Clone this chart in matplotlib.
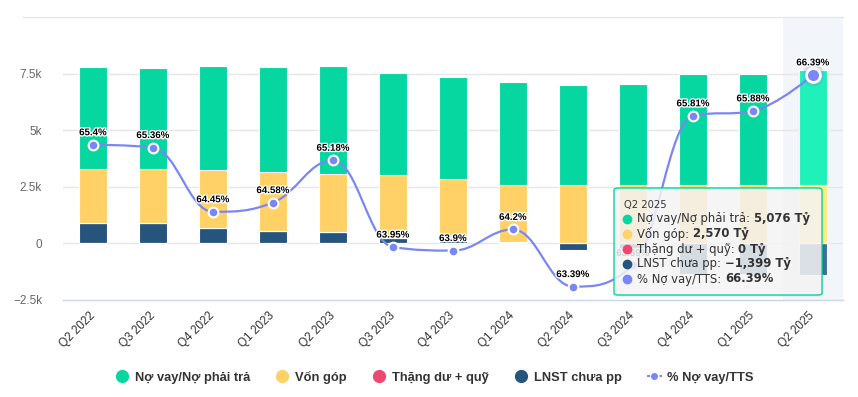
import numpy as np
import matplotlib.pyplot as plt
from matplotlib.path import Path
from matplotlib.patches import PathPatch, FancyBboxPatch
from matplotlib.lines import Line2D
import matplotlib.patheffects as pe

# quarters and values (Tỷ)
quarters = ['Q2 2022', 'Q3 2022', 'Q4 2022', 'Q1 2023', 'Q2 2023', 'Q3 2023', 'Q4 2023',
            'Q1 2024', 'Q2 2024', 'Q3 2024', 'Q4 2024', 'Q1 2025', 'Q2 2025']
no_vay = [4510, 4460, 4600, 4650, 4780, 4520, 4520, 4560, 4440, 4470, 4930, 4930, 5076]
von_gop = [2420, 2420, 2570, 2600, 2570, 2770, 2580, 2550, 2570, 2570, 2570, 2570, 2570]
thang_du = [0, 0, 0, 0, 0, 0, 0, 0, 0, 0, 0, 0, 0]
lnst = [880, 880, 680, 560, 500, 250, 270, 40, -270, -400, -1330, -1340, -1399]
pct_no_vay = [65.4, 65.36, 64.45, 64.58, 65.18, 63.95, 63.9, 64.2, 63.39, 63.69, 65.81, 65.88, 66.39]

yticks = [-2500, 0, 2500, 5000, 7500]
ytick_labels = ['\u22122.5k', '0', '2.5k', '5k', '7.5k']

c_green = '#06d6a0'
c_yellow = '#ffd166'
c_red = '#ef476f'
c_navy = '#26547c'
c_line = '#7b86f5'
hover_idx = 12

W, H = 858, 397


def brighten(hexcol, amt=0.1):
    r, g, b = [int(hexcol[i:i + 2], 16) for i in (1, 3, 5)]
    return tuple(min(255, v + 255 * amt) / 255 for v in (r, g, b))


def spline_path(xs, ys, smoothing=1.5):
    # highcharts style spline control points
    n = len(xs)
    left = [(xs[i], ys[i]) for i in range(n)]
    right = [(xs[i], ys[i]) for i in range(n)]
    d = smoothing + 1
    for i in range(1, n - 1):
        px, py = xs[i], ys[i]
        lx, ly = xs[i - 1], ys[i - 1]
        nx, ny = xs[i + 1], ys[i + 1]
        lcx = (smoothing * px + lx) / d
        lcy = (smoothing * py + ly) / d
        rcx = (smoothing * px + nx) / d
        rcy = (smoothing * py + ny) / d
        if rcx != lcx:
            corr = ((rcy - lcy) * (rcx - px)) / (rcx - lcx) + py - rcy
            lcy += corr
            rcy += corr
        if lcy > ly and lcy > py:
            lcy = max(ly, py)
            rcy = 2 * py - lcy
        elif lcy < ly and lcy < py:
            lcy = min(ly, py)
            rcy = 2 * py - lcy
        if rcy > ny and rcy > py:
            rcy = max(ny, py)
            lcy = 2 * py - rcy
        elif rcy < ny and rcy < py:
            rcy = min(ny, py)
            lcy = 2 * py - rcy
        left[i] = (lcx, lcy)
        right[i] = (rcx, rcy)
    verts = [(xs[0], ys[0])]
    codes = [Path.MOVETO]
    for i in range(1, n):
        verts += [right[i - 1], left[i], (xs[i], ys[i])]
        codes += [Path.CURVE4] * 3
    return Path(verts, codes)


fig = plt.figure(figsize=(W / 100, H / 100), dpi=100)
ax = fig.add_axes([63 / W, 97 / H, 780 / W, 283 / H])
x = np.arange(len(quarters))

# hovered category band
ax.axvspan(hover_idx - 0.5, hover_idx + 0.5, color='#f2f5fa', zorder=0, lw=0)

for yv in [0, 2500, 5000, 7500]:
    ax.axhline(yv, color='#e6e6e6', lw=1, zorder=0.5)
fig.add_artist(Line2D([23 / W, 843 / W], [1 - 17 / H, 1 - 17 / H], color='#e6e6e6', lw=1))

lnst_arr = np.array(lnst, dtype=float)
pos_base = np.where(lnst_arr > 0, lnst_arr, 0)
neg_part = np.where(lnst_arr < 0, lnst_arr, 0)
td = np.array(thang_du, dtype=float)
vg = np.array(von_gop, dtype=float)
nv = np.array(no_vay, dtype=float)


def cols(c):
    out = [c] * len(quarters)
    out[hover_idx] = brighten(c)
    return out


bw = 0.47
ax.bar(x, pos_base, bw, color=cols(c_navy), edgecolor='white', lw=0.8, zorder=2)
ax.bar(x, neg_part, bw, color=cols(c_navy), edgecolor='white', lw=0.8, zorder=2)
ax.bar(x, td, bw, bottom=pos_base, color=cols(c_red), edgecolor='white', lw=0.8, zorder=2)
ax.bar(x, vg, bw, bottom=pos_base + td, color=cols(c_yellow), edgecolor='white', lw=0.8, zorder=2)
ax.bar(x, nv, bw, bottom=pos_base + td + vg, color=cols(c_green), edgecolor='white', lw=0.8, zorder=2)

ax.set_xlim(-0.5, len(quarters) - 0.5)
ax.set_ylim(-2500, 10000)
ax.set_yticks(yticks)
ax.set_yticklabels(ytick_labels, family='Liberation Sans', fontsize=8.5, color='#666666')
ax.set_xticks(x)
ax.set_xticklabels(quarters, rotation=45, ha='right', va='center', rotation_mode='anchor',
                   family='Liberation Sans', fontsize=8.5, color='#333333')
ax.tick_params(axis='y', length=0, pad=15)
ax.tick_params(axis='x', length=0, pad=10)
for s in ['top', 'right', 'left']:
    ax.spines[s].set_visible(False)
ax.spines['bottom'].set_color('#ccd6eb')
ax.spines['bottom'].set_linewidth(1)

# % line on its own axis
ax2 = ax.twinx()
ax2.set_ylim(63.2, 67.21)
ax2.axis('off')
ax2.add_patch(PathPatch(spline_path(list(x), pct_no_vay), fill=False, edgecolor=c_line, lw=1.6, zorder=3))
for i, v in enumerate(pct_no_vay):
    if i == hover_idx:
        ax2.plot(x[i], v, 'o', ms=16, color=c_line, alpha=0.25, mew=0, zorder=4)
        ax2.plot(x[i], v, 'o', ms=10, color=c_line, mec='white', mew=2, zorder=5)
    else:
        ax2.plot(x[i], v, 'o', ms=7, color=c_line, mec='white', mew=1.5, zorder=5)
    ax2.annotate('{:g}%'.format(v), (x[i], v), xytext=(0, 9), textcoords='offset points',
                 ha='center', va='center', fontsize=7, fontweight='bold', family='Liberation Sans',
                 color='black', zorder=6,
                 path_effects=[pe.withStroke(linewidth=2, foreground='white')])

# legend
handles = [
    Line2D([], [], ls='', marker='o', ms=8.5, color=c_green),
    Line2D([], [], ls='', marker='o', ms=8.5, color=c_yellow),
    Line2D([], [], ls='', marker='o', ms=8.5, color=c_red),
    Line2D([], [], ls='', marker='o', ms=8.5, color=c_navy),
    Line2D([], [], ls=(0, (1.5, 1.5)), marker='o', ms=4, lw=1.5, color=c_line),
]
labels = ['Nợ vay/Nợ phải trả', 'Vốn góp', 'Thặng dư + quỹ', 'LNST chưa pp', '% Nợ vay/TTS']
fig.legend(handles, labels, loc='center', bbox_to_anchor=(434 / W, 1 - 377 / H), ncol=5,
           frameon=False, handlelength=1.2, handletextpad=0.4, columnspacing=1.9,
           prop={'family': 'Liberation Sans', 'weight': 'bold', 'size': 9.3},
           labelcolor='#333333')

# tooltip
tx0, ty0, tx1, ty1 = 614, 188, 822, 295
shadow = FancyBboxPatch(((tx0 + 1.5) / W, 1 - (ty1 + 1.5) / H), (tx1 - tx0) / W, (ty1 - ty0) / H,
                        boxstyle='round,pad=0,rounding_size=0.005', transform=fig.transFigure,
                        facecolor='black', alpha=0.08, edgecolor='none', zorder=19)
fig.add_artist(shadow)
box = FancyBboxPatch((tx0 / W, 1 - ty1 / H), (tx1 - tx0) / W, (ty1 - ty0) / H,
                     boxstyle='round,pad=0,rounding_size=0.005', transform=fig.transFigure,
                     facecolor='#f7f7f7', alpha=0.85, edgecolor='none', zorder=20)
fig.add_artist(box)
border = FancyBboxPatch((tx0 / W, 1 - ty1 / H), (tx1 - tx0) / W, (ty1 - ty0) / H,
                        boxstyle='round,pad=0,rounding_size=0.005', transform=fig.transFigure,
                        facecolor='none', edgecolor=c_green, lw=1, zorder=21)
fig.add_artist(border)
fig.text(624 / W, 1 - 205 / H, quarters[hover_idx], fontsize=7.2, color='#333333',
         family='DejaVu Sans', va='center', zorder=22)
tip_rows = [
    (c_green, 'Nợ vay/Nợ phải trả: ', '{:,} Tỷ'.format(no_vay[hover_idx])),
    (c_yellow, 'Vốn góp: ', '{:,} Tỷ'.format(von_gop[hover_idx])),
    (c_red, 'Thặng dư + quỹ: ', '{:,} Tỷ'.format(thang_du[hover_idx])),
    (c_navy, 'LNST chưa pp: ', '{:,} Tỷ'.format(lnst[hover_idx]).replace('-', '\u2212')),
    (c_line, '% Nợ vay/TTS: ', '{:g}%'.format(pct_no_vay[hover_idx])),
]
renderer = fig.canvas.get_renderer()
row_y = [219, 234, 249, 264, 279]
for (c, lab, val), yy in zip(tip_rows, row_y):
    fy = 1 - yy / H
    fig.add_artist(Line2D([627 / W], [fy], ls='', marker='o', ms=6, color=c, zorder=22))
    t = fig.text(637 / W, fy, lab, fontsize=8.4, color='#333333', family='DejaVu Sans',
                 va='center', zorder=22)
    bb = t.get_window_extent(renderer)
    fig.text(bb.x1 / W, fy, val, fontsize=8.4, color='#333333', family='DejaVu Sans',
             fontweight='bold', va='center', zorder=22)

fig.savefig('out.png', dpi=100)
